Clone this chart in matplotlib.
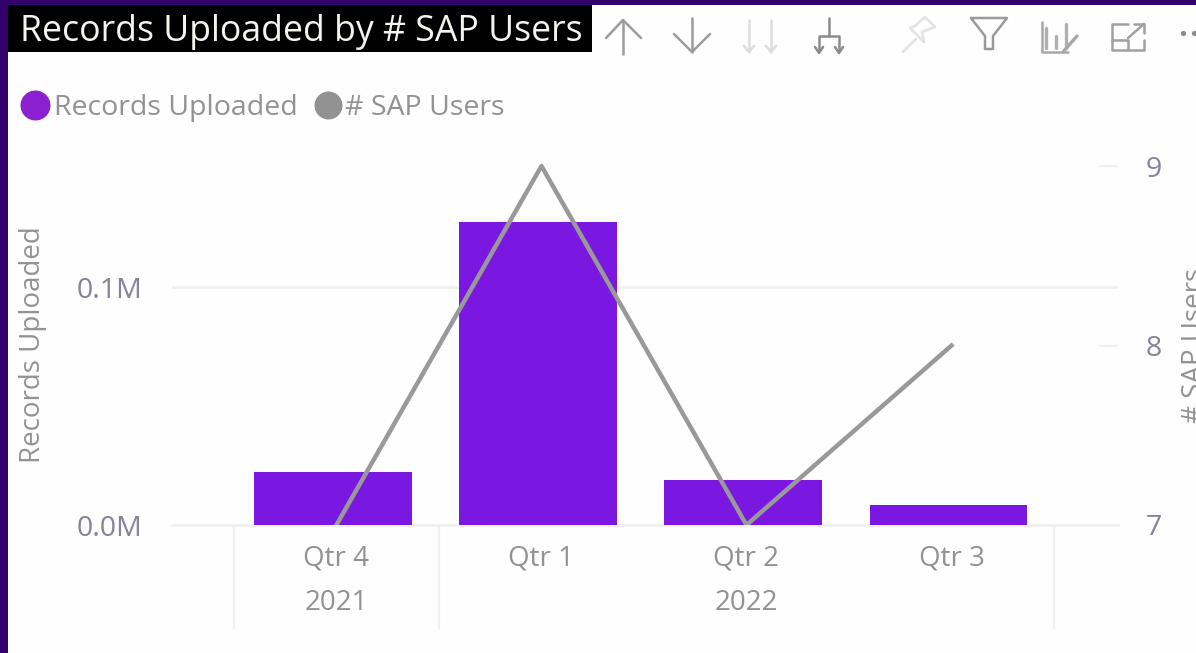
import matplotlib
matplotlib.use('Agg')
import matplotlib.pyplot as plt
from matplotlib.patches import Rectangle
from matplotlib.transforms import blended_transform_factory

plt.rcParams['font.family'] = ['Open Sans', 'DejaVu Sans']

# data
quarters = ['Qtr 4', 'Qtr 1', 'Qtr 2', 'Qtr 3']
records = [0.0223, 0.1273, 0.0189, 0.0084]
sap_users = [7, 9, 7, 8]
years = ['2021', '2022']
year_centers = [0, 2]
year_edges = [-0.5, 0.5, 3.5]

W, H = 1196, 653
BAR = '#7a17e0'
LINE = '#999999'
TICK = '#85829a'
GREY = '#929292'
GRID = '#f0f0f0'
BORDER = '#31006a'

fig = plt.figure(figsize=(W / 100, H / 100), dpi=100, facecolor='#fefefe')

# main plot, placed in pixels of the figure
left, right, top, bottom = 172, 1118, 140, 525
ax = fig.add_axes([left / W, 1 - bottom / H, (right - left) / W, (bottom - top) / H])
ax.set_facecolor('none')
x = list(range(len(quarters)))

# bars sit a little left of the band centre in the original
ax.bar([i - 0.015 for i in x], records, width=0.77, color=BAR, zorder=3)
ax.set_xlim(-0.802, 3.812)
ax.set_ylim(0, 0.1618)
ax.set_yticks([0, 0.1])
ax.set_yticklabels(['0.0M', '0.1M'])
ax.yaxis.grid(True, color=GRID, lw=2, zorder=0)
ax.set_axisbelow(True)
ax.set_xticks(x)
ax.set_xticklabels(quarters)
ax.tick_params(axis='x', length=0, pad=14, labelsize=20, labelcolor=GREY)
ax.tick_params(axis='y', length=0, pad=21, labelsize=20.5, labelcolor=TICK)
for s in ax.spines.values():
    s.set_visible(False)
ax.axhline(0, color=GRID, lw=2, zorder=1, clip_on=False)

ax2 = ax.twinx()
ax2.plot(x, sap_users, color=LINE, lw=3.2, zorder=4)
ax2.set_ylim(7, 9.145)
ax2.set_yticks([7, 8, 9])
ax2.tick_params(axis='y', direction='in', length=14, width=1.5, color=GRID, pad=20,
                labelsize=20.5, labelcolor=TICK)
for s in ax2.spines.values():
    s.set_visible(False)

# two level category axis
trans = blended_transform_factory(ax.transData, ax.transAxes)
for e in year_edges:
    ax.plot([e, e], [0, -103 / (bottom - top)], transform=trans, color=GRID, lw=1.6, clip_on=False)
for yr, c in zip(years, year_centers):
    ax.text(c, -78 / (bottom - top), yr, transform=trans, ha='center', va='center',
            fontsize=20, color=GREY)

# axis titles, the right one runs off the edge as in the original
fig.text(33 / W, 1 - 345 / H, 'Records Uploaded', rotation=90, ha='center', va='center',
         fontsize=20, color=GREY)
fig.text(1195 / W, 1 - 345 / H, '# SAP Users', rotation=90, ha='center', va='center',
         fontsize=20, color=GREY)

# overlay in pixels for the frame, title, legend and toolbar icons
ov = fig.add_axes([0, 0, 1, 1], zorder=10)
ov.set_xlim(0, W)
ov.set_ylim(H, 0)
ov.axis('off')
ov.patch.set_alpha(0)

ov.add_patch(Rectangle((0, 0), W, 5, color=BORDER, lw=0))
ov.add_patch(Rectangle((0, 0), 8, H, color=BORDER, lw=0))
ov.add_patch(Rectangle((8, 5), 584, 47, color='black', lw=0))
ov.text(20, 32, 'Records Uploaded by # SAP Users', color='#f4f4ee', fontsize=25.7, va='center', ha='left')

ov.scatter([35], [105], s=466, color='#8a20d0', lw=0)
ov.text(54, 108, 'Records Uploaded', color=GREY, fontsize=20.5, va='center', ha='left')
ov.scatter([328], [105], s=406, color=GREY, lw=0)
ov.text(345, 108, '# SAP Users', color=GREY, fontsize=20.5, va='center', ha='left')


def icon(xs, ys, color='#9c9c9c', lw=1.8):
    ov.plot(xs, ys, color=color, lw=lw, solid_capstyle='round', solid_joinstyle='round')


# up / down arrows
icon([623, 623], [20, 54])
icon([606, 623, 641], [38, 20, 38])
icon([692, 692], [18, 52])
icon([674, 692, 710], [34, 52, 34])
# drill all (faint)
for px in [749, 771]:
    icon([px, px], [20, 52], color='#dddddd')
    icon([px - 5, px, px + 5], [46, 52, 46], color='#dddddd')
# expand hierarchy
icon([829, 829], [18, 36], color='#8c8c8c')
icon([819, 819, 839, 839], [50, 36, 36, 50], color='#8c8c8c')
icon([815, 819, 823], [47, 53, 47], color='#8c8c8c')
icon([835, 839, 843], [47, 53, 47], color='#8c8c8c')
# pin
icon([903, 916], [52, 39], color='#e2e2e2')
icon([925, 935, 922, 924, 910, 915, 925], [17, 27, 32, 42, 28, 26, 17], color='#e2e2e2')
# filter
icon([971, 1007, 993, 993, 985, 985, 971], [18, 18, 36, 49, 49, 36, 18], color='#9a9a9a')
# chart and pencil
for px, y0 in [(1046, 28), (1056, 36), (1066, 24)]:
    icon([px, px], [y0, 48], color='#b0b0b0', lw=2.4)
icon([1042, 1042, 1068], [22, 52, 52], color='#a8a8a8')
icon([1063, 1077], [52, 36], color='#a8a8a8', lw=2.4)
# focus mode
icon([1128, 1112, 1112, 1144, 1144], [24, 24, 50, 50, 40], color='#a0a0a0')
icon([1112, 1128, 1128], [40, 40, 50], color='#a0a0a0')
icon([1128, 1144], [38, 24], color='#a0a0a0')
icon([1134, 1144, 1144], [24, 24, 33], color='#a0a0a0')
# more options dots, cut by the edge
ov.scatter([1183, 1194], [33, 33], s=14, color='#8c8c8c', lw=0)

fig.savefig('out.png', dpi=100, facecolor=fig.get_facecolor())
